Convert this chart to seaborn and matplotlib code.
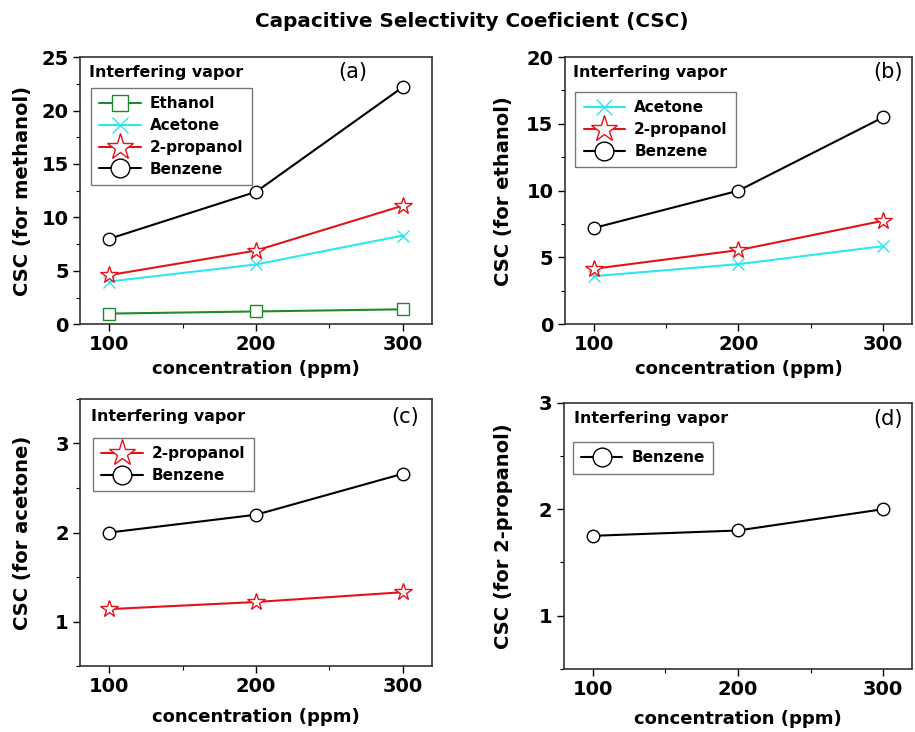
import matplotlib
matplotlib.use("Agg")
import matplotlib.pyplot as plt
import seaborn as sns
import pandas as pd
from matplotlib.ticker import MultipleLocator

# ---------------- data ----------------
conc = [100, 200, 300]

# (a) CSC for methanol
a_ethanol = [1.0, 1.2, 1.4]
a_acetone = [4.0, 5.6, 8.3]
a_propanol = [4.6, 6.9, 11.1]
a_benzene = [8.0, 12.4, 22.2]

# (b) CSC for ethanol
b_acetone = [3.6, 4.5, 5.85]
b_propanol = [4.15, 5.55, 7.75]
b_benzene = [7.2, 10.0, 15.5]

# (c) CSC for acetone
c_propanol = [1.14, 1.22, 1.33]
c_benzene = [2.0, 2.2, 2.66]

# (d) CSC for 2-propanol
d_benzene = [1.75, 1.8, 2.0]

title = "Capacitive Selectivity Coeficient (CSC)"
xlabel = "concentration (ppm)"
ylabels = ["CSC (for methanol)", "CSC (for ethanol)", "CSC (for acetone)", "CSC (for 2-propanol)"]
panel_tags = ["(a)", "(b)", "(c)", "(d)"]

# ---------------- styles ----------------
styles = {
    "Ethanol": dict(color="#1f8a2a", marker="s", ms=8),
    "Acetone": dict(color="#2ee6ee", marker="x", ms=8),
    "2-propanol": dict(color="#e3121b", marker="*", ms=13),
    "Benzene": dict(color="#000000", marker="o", ms=9),
}

sns.set_theme(style="ticks")
plt.rcParams["font.family"] = ["DejaVu Sans"]
plt.rcParams["axes.edgecolor"] = "#333333"
for k in ["text.color", "axes.labelcolor", "xtick.color", "ytick.color"]:
    plt.rcParams[k] = "black"

fig = plt.figure(figsize=(9.15, 7.32), dpi=100)

axes_pos = [
    [0.0874, 0.557, 0.385, 0.365],
    [0.617, 0.557, 0.380, 0.365],
    [0.0874, 0.090, 0.385, 0.365],
    [0.616, 0.086, 0.381, 0.364],
]

panels = [
    [("Ethanol", a_ethanol), ("Acetone", a_acetone), ("2-propanol", a_propanol), ("Benzene", a_benzene)],
    [("Acetone", b_acetone), ("2-propanol", b_propanol), ("Benzene", b_benzene)],
    [("2-propanol", c_propanol), ("Benzene", c_benzene)],
    [("Benzene", d_benzene)],
]

ylims = [(0, 25), (0, 20), (0.5, 3.5), (0.5, 3.0)]
ymajor = [5, 5, 1, 1]
yminor = [2.5, 2.5, 0.5, 0.5]
legend_anchor = [(0.031, 0.884), (0.031, 0.869), (0.037, 0.854), (0.026, 0.853)]
ivapor_pos = [(0.026, 0.944), (0.023, 0.944), (0.031, 0.933), (0.031, 0.94)]
tag_pos = [(0.775, 0.944), (0.93, 0.944), (0.923, 0.933), (0.93, 0.94)]
ylab_x = [-0.136, -0.149, -0.136, -0.145]
xlab_y = [-0.135, -0.135, -0.157, -0.154]

for i in range(4):
    ax = fig.add_axes(axes_pos[i])
    for name, vals in panels[i]:
        st = styles[name]
        df = pd.DataFrame({"conc": conc, "csc": vals})
        sns.lineplot(data=df, x="conc", y="csc", ax=ax, color=st["color"], lw=1.5,
                     marker=st["marker"], markersize=st["ms"],
                     markerfacecolor="white" if st["marker"] != "x" else st["color"],
                     markeredgecolor=st["color"], markeredgewidth=1.0,
                     label=name, legend=False)
    ax.set_xlim(80, 320)
    ax.set_ylim(*ylims[i])
    ax.xaxis.set_major_locator(MultipleLocator(100))
    ax.xaxis.set_minor_locator(MultipleLocator(50))
    ax.yaxis.set_major_locator(MultipleLocator(ymajor[i]))
    ax.yaxis.set_minor_locator(MultipleLocator(yminor[i]))
    ax.tick_params(which="major", direction="out", length=5, width=1.0, labelsize=14, pad=3)
    ax.tick_params(which="minor", direction="out", length=3, width=0.8)
    for lab in ax.get_xticklabels() + ax.get_yticklabels():
        lab.set_fontweight("bold")
    for sp in ax.spines.values():
        sp.set_visible(True)
        sp.set_linewidth(1.2)
    ax.set_xlabel(xlabel, fontsize=13, fontweight="bold")
    ax.set_ylabel(ylabels[i], fontsize=14, fontweight="bold")
    ax.yaxis.set_label_coords(ylab_x[i], 0.5)
    ax.xaxis.set_label_coords(0.5, xlab_y[i])
    ax.text(*ivapor_pos[i], "Interfering vapor", transform=ax.transAxes,
            fontsize=11.4, fontweight="bold", ha="left", va="center")
    ax.text(*tag_pos[i], panel_tags[i], transform=ax.transAxes,
            fontsize=15, ha="center", va="center")
    leg = ax.legend(loc="upper left", bbox_to_anchor=legend_anchor[i], frameon=True,
                    fancybox=False, edgecolor="#777777", framealpha=1, markerscale=1.5,
                    prop={"weight": "bold", "size": 11}, handlelength=2.7,
                    handletextpad=0.6, borderpad=0.55, labelspacing=0.44, borderaxespad=0)
    leg.get_frame().set_linewidth(1.0)

fig.text(0.516, 0.970, title, ha="center", va="center", fontsize=14.4, fontweight="bold")

fig.savefig("out.png", dpi=100)
